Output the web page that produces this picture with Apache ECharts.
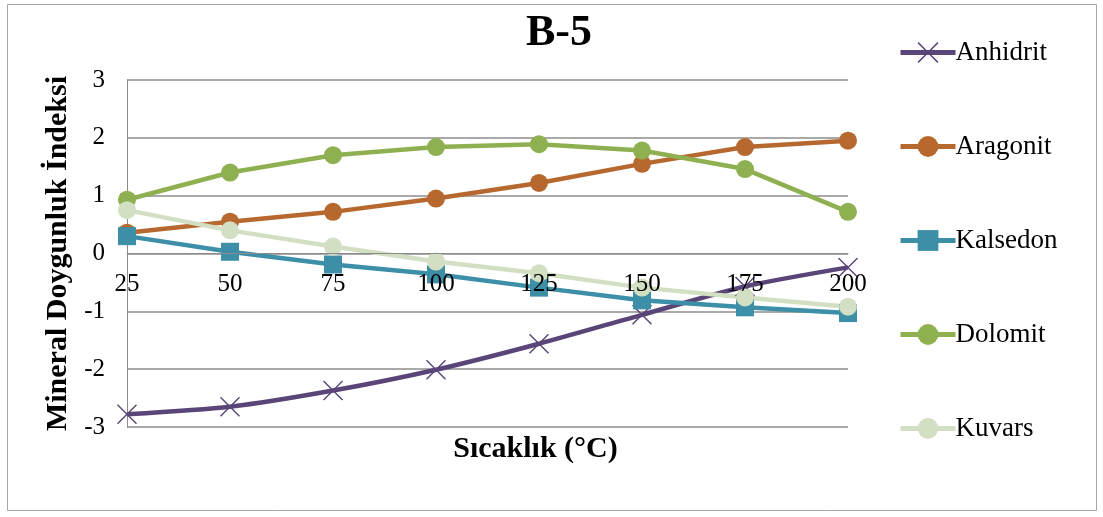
<!DOCTYPE html>
<html>
<head>
<meta charset="utf-8">
<script src="https://cdn.jsdelivr.net/npm/echarts@6/dist/echarts.min.js"></script>
<style>
  html, body { margin: 0; padding: 0; background: #fff; }
  #chart { width: 1103px; height: 517px; }
</style>
</head>
<body>
<div id="chart"></div>
<script>
// Temperature steps (°C)
const temperatures = ['25', '50', '75', '100', '125', '150', '175', '200'];

// Saturation index per mineral
const anhidrit = [-2.78, -2.65, -2.37, -2.01, -1.56, -1.06, -0.57, -0.24];
const aragonit = [0.36, 0.55, 0.72, 0.95, 1.22, 1.55, 1.84, 1.95];
const kalsedon = [0.30, 0.03, -0.19, -0.36, -0.59, -0.81, -0.93, -1.03];
const dolomit  = [0.93, 1.40, 1.70, 1.84, 1.89, 1.78, 1.46, 0.72];
const kuvars   = [0.75, 0.40, 0.12, -0.14, -0.34, -0.59, -0.76, -0.92];

const yTicks = { min: -3, max: 3, interval: 1 };

const serif = '"Liberation Serif", "Times New Roman", serif';
const crossSymbol = 'path://M0,1L1,0L10,9L19,0L20,1L11,10L20,19L19,20L10,11L1,20L0,19L9,10Z';

// Plot area in pixels; the category axis sits on the zero line
const plot = { left: 127, right: 255, top: 80, bottom: 90 };
const plotHeight = 517 - plot.top - plot.bottom;
const zeroShift = -plotHeight * (0 - yTicks.min) / (yTicks.max - yTicks.min);

function lineSeries(name, data, color, symbol, size, extra) {
  return Object.assign({
    name: name,
    type: 'line',
    data: data,
    symbol: symbol,
    symbolSize: size,
    showAllSymbol: true,
    lineStyle: { color: color, width: 4.5 },
    itemStyle: { color: color },
    emphasis: { disabled: true },
    animation: false
  }, extra || {});
}

const chart = echarts.init(document.getElementById('chart'), null, { renderer: 'canvas' });

chart.setOption({
  backgroundColor: '#ffffff',
  title: {
    text: 'B-5',
    left: 554,
    top: 7,
    textAlign: 'center',
    textStyle: { fontFamily: serif, fontSize: 44, fontWeight: 'bold', color: '#000' }
  },
  graphic: [{
    type: 'rect',
    shape: { x: 7.5, y: 4.5, width: 1089, height: 506 },
    style: { fill: 'none', stroke: '#a6a6a6', lineWidth: 1 },
    silent: true
  }],
  legend: {
    orient: 'vertical',
    left: 893,
    top: 34,
    itemGap: 67,
    itemWidth: 55,
    itemHeight: 26,
    lineStyle: { width: 5 },
    textStyle: { fontFamily: serif, fontSize: 27, color: '#000', padding: [0, 0, 0, -5] },
    data: ['Anhidrit', 'Aragonit', 'Kalsedon', 'Dolomit', 'Kuvars']
  },
  grid: Object.assign({ containLabel: false, outerBoundsMode: 'none' }, plot),
  xAxis: {
    type: 'category',
    data: temperatures,
    boundaryGap: false,
    offset: zeroShift,
    z: 10,
    name: 'Sıcaklık (°C)',
    nameLocation: 'middle',
    nameGap: 181,
    nameTextStyle: { fontFamily: serif, fontSize: 30, fontWeight: 'bold', color: '#000', padding: [0, 0, 0, 96] },
    axisLine: { onZero: false, lineStyle: { color: '#8c8c8c', width: 1 } },
    axisTick: { show: false },
    axisLabel: { fontFamily: serif, fontSize: 25, color: '#000', margin: 18 },
    splitLine: { show: false }
  },
  yAxis: {
    type: 'value',
    min: yTicks.min,
    max: yTicks.max,
    interval: yTicks.interval,
    name: 'Mineral Doygunluk İndeksi',
    nameLocation: 'middle',
    nameGap: 53,
    nameRotate: 90,
    nameTextStyle: { fontFamily: serif, fontSize: 30, fontWeight: 'bold', color: '#000' },
    axisLine: { show: true, lineStyle: { color: '#8c8c8c', width: 1 } },
    axisTick: { show: false },
    axisLabel: { fontFamily: serif, fontSize: 25, color: '#000', margin: 22 },
    splitLine: { show: true, lineStyle: { color: '#8c8c8c', width: 1.5 } }
  },
  series: [
    lineSeries('Anhidrit', anhidrit, '#5a4578', crossSymbol, 20, { smooth: 0.25 }),
    lineSeries('Aragonit', aragonit, '#b7682f', 'circle', 18),
    lineSeries('Kalsedon', kalsedon, '#3c8fa6', 'rect', 18),
    lineSeries('Dolomit', dolomit, '#8fb050', 'circle', 18),
    lineSeries('Kuvars', kuvars, '#d3dfc3', 'circle', 18)
  ]
});
</script>
</body>
</html>
